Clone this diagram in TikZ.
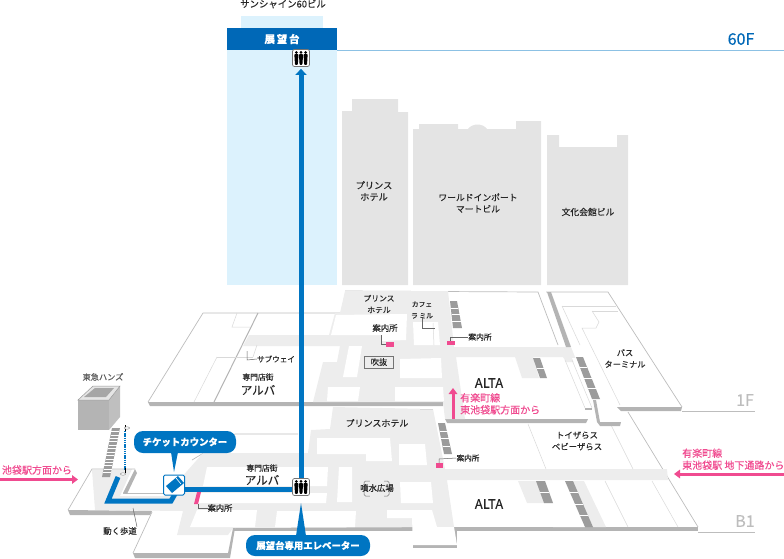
\documentclass[tikz,border=0pt]{standalone}
\usepackage{fontspec}
\setmainfont[FakeBold=0.25]{Noto Sans CJK JP}
\usetikzlibrary{calc,arrows.meta}
\definecolor{routeblue}{HTML}{0075C2}
\definecolor{headblue}{HTML}{0068B7}
\definecolor{towerblue}{HTML}{DCF2FD}
\definecolor{linkpink}{HTML}{F04B90}
\definecolor{corridor}{HTML}{EDEDED}
\definecolor{building}{HTML}{E4E4E4}
\definecolor{edgegray}{HTML}{BDBDBD}
\definecolor{bandgray}{HTML}{B4B4B4}
\definecolor{stepgray}{HTML}{9C9C9C}
\tikzset{
	x=1pt, y=-1pt,
	lbl/.style={font=\fontsize{#1}{11.5}\selectfont, text=black!85, inner sep=0pt, align=center},
	lbl/.default=8.2,
	pinktext/.style={font=\fontsize{10}{12}\selectfont, text=linkpink, inner sep=0pt, align=left},
	floortext/.style={font=\fontsize{16}{16}\selectfont, text=edgegray, inner sep=0pt},
	callout/.style={fill=routeblue, rounded corners=9pt, text=white, inner sep=0pt, font=\fontsize{9.4}{11}\selectfont\bfseries},
	elevbox/.style={draw=black!55, fill=white, rounded corners=2pt, line width=0.7pt, minimum width=17pt, minimum height=17pt, inner sep=0pt},
	leader/.style={draw=black!60, line width=0.5pt},
	route/.style={draw=routeblue, line width=5pt},
	pinkarrow/.style={draw=linkpink, line width=3pt, -{Triangle[width=8.5pt,length=6pt]}},
	thinline/.style={draw=black!15, line width=0.5pt},
	edge/.style={draw=edgegray, line width=0.7pt}
}
\def\stepstrip(#1)(#2)(#3)(#4)#5{\fill[stepgray] (#1) -- (#2) -- (#3) -- (#4) -- cycle;
	\foreach \k in {#5}{\draw[white, line width=0.5pt] ($(#1)!\k!(#4)$) -- ($(#2)!\k!(#3)$);}}
\def\people(#1){\foreach \d in {-4.6,0,4.6}{
	\fill[black] ($(#1)+(\d,-5.6)$) circle (1.5);
	\fill[black, rounded corners=0.8pt] ($(#1)+(\d-2.1,-3.9)$) -- ($(#1)+(\d+2.1,-3.9)$) -- ($(#1)+(\d+1.4,6.8)$) -- ($(#1)+(\d-1.4,6.8)$) -- cycle;}}
\begin{document}
\begin{tikzpicture}
		%%%%% START %%%%%
		\useasboundingbox (0,0) rectangle (784,558);
		
		% tower and buildings
		\fill[towerblue] (241,16) rectangle (323,30);
		\fill[towerblue] (227,28) rectangle (337,285);
		\fill[headblue] (227,28) rectangle (337,50);
		\draw[draw=routeblue!45, line width=0.8pt] (337,50) -- (784,50);
		\fill[building] (342,285) -- (342,111) -- (352,111) -- (352,99) -- (398,99) -- (398,112) -- (408,112) -- (408,285) -- cycle;
		\fill[building] (413,285) -- (413,129) -- (419,129) -- (419,124) -- (458,124) -- (458,129) -- (468,129) .. controls (472,123) and (483,123) .. (487,129) -- (516,129) -- (516,121) -- (541,121) -- (541,285) -- cycle;
		\fill[building] (547,285) -- (547,135) -- (559,135) -- (559,147) -- (617,147) -- (617,135) -- (628,135) -- (628,285) -- cycle;
		
		% B1
		\draw[edge] (192,460) -- (235,434) -- (298,434);
		\draw[edge] (628,412) -- (698,527);
		\draw[edge] (698,532) -- (755,532);
		\draw[edge] (682,411) -- (755,411);
		\fill[bandgray] (233,527) rectangle (698,531);
		\fill[corridor] (92,470) -- (132,469) -- (120,496) -- (165,496) -- (203,453) -- (308,453) -- (311,430) -- (330,429) -- (333,407) -- (433,409) -- (445,469) -- (667,469) -- (668,480) -- (447,480) -- (454,527) -- (233,528) -- (228,535) -- (177,535) -- (183,511) -- (95,510) -- cycle;
		\fill[white] (420,405) rectangle (433,409);
		\draw[thinline] (420,409) -- (433,409);
		\draw[edge] (68,510) -- (92,469) -- (135,469);
		\draw[edge] (133,553) -- (152,512);
		\draw[edge] (123,493) -- (163,493);
		\fill[bandgray] (68,510) -- (152,511) -- (150,515) -- (70,515) -- cycle;
		\fill[bandgray] (135,469) -- (137,473) -- (127,494) -- (123,493) -- cycle;
		\fill[bandgray] (133,553) -- (228,553) -- (233,528) -- (235,528) -- (230,558) -- (135,558) -- cycle;
		\fill[white] (207,467) -- (328,467) -- (327,486) -- (203,486) -- cycle;
		\fill[white] (200,493) -- (327,493) -- (326,503) -- (197,503) -- cycle;
		\fill[white] (339,467) -- (352,467) -- (352,502) -- (337,502) -- cycle;
		\fill[white] (317,438) -- (390,438) -- (392,461) -- (366,461) -- (366,454) -- (317,454) -- cycle;
		\fill[white] (399,444) -- (425,444) -- (427,465) -- (399,465) -- cycle;
		\fill[white] (400,482) -- (431,482) -- (433,503) -- (401,503) -- cycle;
		\fill[white] (277,511) -- (356,511) -- (355,527) -- (275,527) -- cycle;
		\fill[white] (197,510) -- (257,510) -- (255,527) -- (190,527) -- cycle;
		\fill[bandgray] (413,527) rectangle (457,548);
		\fill[white] (387,510) -- (432,510) -- (437,527) -- (454,527) -- (457,545) -- (413,545) -- (412,518) -- (387,518) -- cycle;
		\draw[draw=black!55, line width=0.5pt, rounded corners=1.5pt] (364,481) rectangle (389,496);
		\fill[corridor] (377,481) ++(-7,-1) rectangle ++(14,2);
		\fill[corridor] (377,496) ++(-7,-1) rectangle ++(14,2);
		
		% B1 right side
		\fill[corridor] (518,481) -- (565,481) -- (553,503) -- (527,503) -- cycle;
		\fill[white] (545,481) -- (565,481) -- (585,527) -- (553,527) -- (553,503) -- cycle;
		\fill[corridor] (573,481) -- (584,481) -- (606,527) -- (593,527) -- cycle;
		\stepstrip(536,481)(545,481)(553,503)(544,503){0.5}
		\stepstrip(565,481)(573,481)(593,527)(585,527){0.25,0.5,0.75}
		\draw[thinline] (605,481) -- (628,527);
		\draw[thinline] (652,481) -- (678,527);
		\draw[thinline] (528,424) -- (546,469);
		\draw[thinline] (610,423) -- (633,469);
		\stepstrip(438,423)(445,423)(452,454)(444,454){0.25,0.5,0.75}
		
		% 1F
		\fill[white] (203,313) -- (340,313) -- (345,291) -- (538,292) -- (560,347) -- (571,347) -- (588,420) -- (445,420) -- (443,402) -- (148,402) -- cycle;
		\draw[edge] (148,402) -- (203,313) -- (340,313);
		\draw[edge] (345,291) -- (538,292) -- (558,345);
		\fill[bandgray] (148,402) -- (443,402) -- (443,406) -- (150,406) -- cycle;
		\fill[bandgray] (445,419) -- (588,419) -- (586,423) -- (447,423) -- cycle;
		\fill[corridor] (249,335) -- (329,335) -- (335,313) -- (340,313) -- (345,291) -- (448,291) -- (454,347) -- (571,347) -- (575,357) -- (533,357) -- (539,378) -- (522,378) -- (515,357) -- (456,357) -- (465,419) -- (445,419) -- (443,402) -- (313,402) -- (323,362) -- (337,362) -- (340,346) -- (243,346) -- cycle;
		\draw[draw=bandgray, line width=1pt] (258,313) -- (214,402);
		\draw[thinline] (237,313) -- (232,327) -- (250,327);
		\draw[thinline] (217,357) -- (194,402);
		\draw[thinline] (217,357) -- (253,357);
		\draw[thinline] (257,345) -- (253,357);
		\fill[white] (336,315) -- (407,314) -- (406,340) -- (382,341) -- (382,335) -- (331,335) -- cycle;
		\fill[white] (413,322) -- (438,322) -- (440,345) -- (414,345) -- cycle;
		\draw[thinline] (433,323) -- (434,345);
		\fill[white] (349,346) -- (362,346) -- (357,377) -- (343,377) -- cycle;
		\fill[white] (400,359) -- (441,358) -- (442,378) -- (400,378) -- cycle;
		\fill[white] (328,387) -- (360,387) -- (358,401) -- (327,401) -- cycle;
		\fill[white] (395,387) -- (443,387) -- (444,401) -- (395,401) -- cycle;
		\stepstrip(450,301)(457,301)(462,328)(453,328){0.25,0.5,0.75}
		\stepstrip(533,358)(540,358)(547,378)(540,378){0.5}
		
		% bus terminal
		\fill[white] (546,292) -- (608,292) -- (682,407) -- (617,407) -- (590,357) -- (570,347) -- cycle;
		\draw[edge] (546,292) -- (608,292) -- (682,407);
		\fill[bandgray] (617,407) -- (682,407) -- (681,411) -- (621,411) -- cycle;
		\fill[bandgray] (547,292) -- (551,292) -- (571,347) -- (566,347) -- cycle;
		\fill[corridor] (563,357) -- (575,357) -- (578,362) -- (566,362) -- cycle;
		\fill[white] (572,358) -- (590,358) -- (621,422) -- (598,422) -- cycle;
		\draw[thinline] (565,360) -- (585,408);
		\draw[thinline] (572,360) -- (592,408);
		\fill[bandgray] (585,408) rectangle (592,410);
		\fill[bandgray] (593,400) -- (596,400) -- (600,422) -- (597,422) -- cycle;
		\fill[bandgray] (597,422) -- (621,422) -- (620,426) -- (600,426) -- cycle;
		\stepstrip(576,357)(583,357)(600,399)(592,399){0.25,0.5,0.75}
		\draw[thinline] (562,306) -- (616,306);
		\draw[thinline] (592,311) -- (618,311);
		\draw[thinline] (592,311) -- (599,322) -- (596,328) -- (582,328) -- (620,405);
		\draw[thinline] (562,306) -- (580,345);
		
		% walkway platform and Tokyu Hands
		\fill[bandgray] (78,400) rectangle (109,430);
		\fill[bandgray!85] (109,400) -- (120,386) -- (120,417) -- (109,430) -- cycle;
		\draw[fill=black!10, draw=black!40, line width=0.5pt] (78,400) -- (93,386) -- (120,386) -- (109,400) -- cycle;
		\fill[black!35] (84,397) -- (95,388) -- (114,388) -- (106,397) -- cycle;
		\fill[stepgray] (112,428) -- (120,428) -- (110,477) -- (102,477) -- cycle;
		\foreach \k in {0.07,0.14,...,0.96}{\draw[white, line width=0.5pt] ($(112,428)!\k!(102,477)$) -- ($(120,428)!\k!(110,477)$);}
		\draw[draw=routeblue, line width=1.6pt, dash pattern=on 1.3pt off 0.9pt] (125,431) -- (125,470);
		\draw[black, line width=0.8pt] (125,425) -- (125,431);
		\draw[black, line width=0.8pt] (125,468) -- (125,473);
		\draw[draw=black!50, fill=white, line width=0.4pt] (127,428) ellipse (2.5 and 1.2);
		\draw[draw=black!50, fill=white, line width=0.4pt] (123,474) ellipse (2.5 and 1.2);
		
		% pink markers
		\fill[linkpink] (197,492) -- (201,492) -- (198,504) -- (194,504) -- cycle;
		\fill[linkpink] (386,342) rectangle (394,347);
		\fill[linkpink] (447,341) rectangle (455,345);
		\fill[linkpink] (436,463) rectangle (443,468);
		\coordinate (markB) at (198,504);
		\coordinate (markA) at (386,344);
		\coordinate (markC) at (450,341);
		\coordinate (markD) at (439,463);
		\coordinate (cafeend) at (435,328);
		\coordinate (subend) at (247,351);
		\coordinate (walkend) at (133,508);
		
		% texts
		\node[lbl=9.4] (sunshine) at (283,4) {サンシャイン60ビル};
		\node[text=white, inner sep=0pt, font=\fontsize{10.5}{11}\selectfont\bfseries] (deck) at (282,39) {展\,望\,台};
		\node[inner sep=0pt, text=headblue, font=\fontsize{16}{16}\selectfont] (f60) at (741,39) {60F};
		\node[lbl=9.2] (hoteltw) at (374,191) {プリンス\\ホテル};
		\node[lbl=8.8] (worldtw) at (478,203) {ワールドインポート\\マートビル};
		\node[lbl=8.8] (bunka) at (588,212) {文化会館ビル};
		\node[floortext] (f1) at (745,400) {1F};
		\node[floortext] (b1) at (745,521) {B1};
		\node[lbl=7.8] (hotelf) at (379,304) {プリンス\\ホテル};
		\node[lbl=6.8] (cafe) at (422,310) {カフェ\\ラ ミル};
		\node[lbl=8.4] (infoA) at (385,328) {案内所};
		\node[lbl=7.8] (infoC) at (480,337) {案内所};
		\node[lbl=7.6] (subway) at (276,359) {サブウェイ};
		\node[lbl=8.2, draw=black!55, line width=0.5pt, fill=corridor, minimum width=29pt, minimum height=12pt] (fukinuke) at (379,362) {吹抜};
		\node[lbl=7.8] (arcaA) at (258,377) {専門店街};
		\node[lbl=11.5] (arcaB) at (258,390) {アルバ};
		\node[lbl=8.2] (bus) at (625,358.5) {バス\\ターミナル};
		\node[lbl=13] (altaf) at (489,383) {ALTA};
		\node[lbl=13] (altab) at (489,504) {ALTA};
		\node[lbl=8.4] (toys) at (577,441) {トイザらス\\ベビーザらス};
		\node[lbl=9] (hotelb) at (377,423) {プリンスホテル};
		\node[lbl=7.6] (infoD) at (468,458) {案内所};
		\node[lbl=7.8] (arcbA) at (262,468) {専門店街};
		\node[lbl=11.5] (arcbB) at (262,480) {アルバ};
		\node[lbl=8.4] (fountain) at (377,488) {噴水広場};
		\node[lbl=8.2] (infoB) at (220,508) {案内所};
		\node[lbl=8.4] (walkway) at (120,531) {動く歩道};
		\node[lbl=8.2, text=black!65] (hands) at (103,377) {東急ハンズ};
		
		% leaders
		\draw[leader] (381,335) -- (381,344) -- (markA);
		\draw[leader] (markC) -- (450,337) -- (infoC.west);
		\draw[leader] (markD) -- (439,459) -- (infoD.west);
		\draw[leader] (markB) -- (198,508) -- (infoB.west);
		\draw[leader] (422,318) -- (422,328) -- (cafeend);
		\draw[leader] (subend) -- (247,360) -- (subway.west);
		\draw[leader] (walkend) -- (walkway.north east);
		
		% pink arrows
		\node[pinktext] (ikebukuro) at (37,470) {池袋駅方面から};
		\draw[pinkarrow] (0,479.5) -- (78,479.5);
		\node[pinktext, anchor=north west] (yura) at (460,393) {有楽町線\\東池袋駅方面から};
		\draw[pinkarrow] (453,419) -- (453,388);
		\node[pinktext, anchor=south west] (higashi) at (682,470) {有楽町線\\東池袋駅 地下通路から};
		\draw[pinkarrow] (784,474) -- (674,474);
		
		% route
		\draw[route, line join=miter] (118,477) -- (108,501) -- (171,501) -- (175,494);
		\node[elevbox] (elevtop) at (301,58) {};
		\node[elevbox] (elevlow) at (301,487) {};
		\node[draw=routeblue, fill=white, line width=1pt, rounded corners=1.5pt, minimum width=21pt, minimum height=20pt, inner sep=0pt] (ticket) at (174,485) {};
		\draw[route] (185,489) -- (292,489);
		\draw[draw=routeblue, line width=5pt, -{Triangle[width=11pt,length=6pt]}] (elevlow.north) -- ($(elevtop.south)+(0,2)$);
		\people(elevtop)
		\people(elevlow)
		\fill[routeblue] (166,486) -- (178,476) -- (184,483) -- (172,493) -- cycle;
		\draw[white, line width=0.6pt] (176,478) -- (181,484);
		
		% callouts
		\node[callout, minimum width=102pt, minimum height=22pt] (ticketcall) at (185,442) {チケットカウンター};
		\fill[routeblue] (171,452) -- (178,452) -- (174,472) -- cycle;
		\node[callout, minimum width=124pt, minimum height=21pt] (deckcall) at (308,545.5) {展望台専用エレベーター};
		\fill[routeblue] (296,536) -- (306,536) -- (301,503) -- cycle;
		
		%%%%% END %%%%%
\end{tikzpicture}
\end{document}
